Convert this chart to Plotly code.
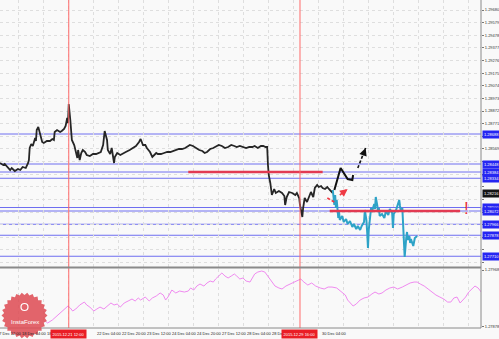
import math
import plotly.graph_objects as go

# ---------------- data (x = M30 bar index from chart start, y = price) ----------------
black_bars = [0, 4, 6, 10, 13, 15, 19, 23, 26, 29,
              33, 36, 37, 38, 40, 42, 45, 46, 47, 49,
              51, 52, 54, 56, 60, 64, 67, 69, 70, 73,
              77, 79, 82, 84, 86, 87, 88, 90, 91, 92,
              95, 97, 99, 100, 102, 104, 106, 109, 111, 115,
              119, 123, 127, 129, 132, 134, 136, 137, 138, 141,
              143, 146, 147, 150, 154, 157, 161, 166, 170, 174,
              178, 180, 183, 186, 188, 192, 195, 197, 200, 202,
              206, 210, 214, 218, 221, 225, 229, 233, 237, 241,
              243, 247, 251, 255, 259, 262, 265, 269, 273, 276,
              280, 284, 288, 292, 296, 300, 303, 307, 311, 315,
              319, 323, 326, 330, 334, 337, 340, 342, 343, 344,
              346, 347, 348, 351, 353, 357, 361, 364, 365, 367,
              370, 374, 378, 380, 383, 384, 385, 387, 388, 390,
              393, 396, 398, 401, 403, 406, 408, 411, 413, 416,
              419, 421, 424, 426]
black_price = [1.28456, 1.28440, 1.28448, 1.28416, 1.28400, 1.28416, 1.28392, 1.28408, 1.28400, 1.28424,
               1.28416, 1.28456, 1.28480, 1.28576, 1.28608, 1.28592, 1.28656, 1.28632, 1.28720, 1.28744,
               1.28696, 1.28656, 1.28624, 1.28616, 1.28632, 1.28632, 1.28648, 1.28640, 1.28704, 1.28720,
               1.28704, 1.28712, 1.28728, 1.28752, 1.28816, 1.28776, 1.28928, 1.28800, 1.28688, 1.28640,
               1.28600, 1.28544, 1.28496, 1.28560, 1.28480, 1.28536, 1.28560, 1.28544, 1.28520, 1.28512,
               1.28528, 1.28528, 1.28536, 1.28544, 1.28600, 1.28712, 1.28664, 1.28640, 1.28560, 1.28528,
               1.28576, 1.28456, 1.28504, 1.28536, 1.28520, 1.28528, 1.28544, 1.28560, 1.28576, 1.28592,
               1.28624, 1.28648, 1.28600, 1.28600, 1.28576, 1.28544, 1.28504, 1.28520, 1.28536, 1.28528,
               1.28528, 1.28536, 1.28544, 1.28544, 1.28552, 1.28560, 1.28568, 1.28568, 1.28576, 1.28592,
               1.28600, 1.28592, 1.28576, 1.28560, 1.28552, 1.28536, 1.28544, 1.28568, 1.28576, 1.28584,
               1.28600, 1.28592, 1.28576, 1.28584, 1.28600, 1.28592, 1.28584, 1.28592, 1.28584, 1.28576,
               1.28584, 1.28584, 1.28592, 1.28576, 1.28592, 1.28592, 1.28584, 1.28584, 1.28440, 1.28360,
               1.28296, 1.28240, 1.28200, 1.28248, 1.28216, 1.28232, 1.28216, 1.28192, 1.28120, 1.28184,
               1.28224, 1.28216, 1.28200, 1.28216, 1.28176, 1.28120, 1.28088, 1.28024, 1.28096, 1.28176,
               1.28144, 1.28192, 1.28224, 1.28184, 1.28256, 1.28280, 1.28264, 1.28272, 1.28256, 1.28248,
               1.28264, 1.28248, 1.28224, 1.28216]

cyan_bars = [426, 428, 429, 430, 431, 433, 434, 435, 438, 440,
             443, 445, 448, 451, 453, 456, 458, 461, 463, 466,
             467, 469, 470, 471, 472, 474, 475, 476, 479, 480,
             481, 483, 484, 485, 486, 489, 492, 494, 497, 499,
             502, 503, 504, 507, 509, 511, 512, 513, 515, 516,
             517, 518, 520, 521, 522, 524, 525, 526, 529, 530,
             531, 534]
cyan_price = [1.28240, 1.28120, 1.28200, 1.28096, 1.28160, 1.28016, 1.28064, 1.28000, 1.28032, 1.27984,
              1.28008, 1.27968, 1.27992, 1.27944, 1.27968, 1.27928, 1.27952, 1.27920, 1.27952, 1.27984,
              1.28080, 1.28000, 1.27904, 1.27776, 1.27920, 1.28048, 1.28096, 1.28064, 1.28128, 1.28088,
              1.28184, 1.28112, 1.28064, 1.28096, 1.28032, 1.28048, 1.28016, 1.28072, 1.28040, 1.28088,
              1.28056, 1.27936, 1.28048, 1.28080, 1.28112, 1.28160, 1.28112, 1.28072, 1.28096, 1.27920,
              1.27872, 1.27704, 1.27856, 1.27904, 1.27840, 1.27872, 1.27816, 1.27848, 1.27792, 1.27832,
              1.27856, 1.27872]

osc_bars = [58, 61, 67, 70, 74, 79, 83, 87, 90, 93,
            97, 102, 108, 111, 115, 120, 124, 128, 133, 138,
            142, 146, 150, 154, 159, 164, 169, 173, 177, 180,
            186, 191, 195, 200, 205, 209, 212, 215, 218, 220,
            225, 230, 236, 241, 244, 248, 252, 256, 261, 265,
            269, 273, 276, 280, 284, 288, 292, 296, 300, 303,
            307, 311, 315, 320, 324, 326, 330, 335, 339, 343,
            348, 352, 357, 361, 366, 371, 376, 381, 385, 389,
            394, 399, 404, 410, 415, 420, 425, 431, 436, 442,
            445, 449, 452, 456, 461, 466, 471, 476, 480, 485,
            489, 494, 499, 504, 509, 515, 520, 525, 530, 534,
            538, 543, 548, 553, 558, 563, 568, 573, 577, 581,
            585, 589, 593, 596, 600, 604, 608, 612, 616]
osc_value = [1.278874, 1.278843, 1.278890, 1.278922, 1.278969, 1.279016, 1.279064, 1.279111, 1.279080, 1.279032,
             1.279064, 1.279127, 1.279174, 1.279127, 1.279095, 1.279032, 1.279064, 1.279095, 1.279064, 1.279111,
             1.279159, 1.279127, 1.279143, 1.279095, 1.279159, 1.279190, 1.279222, 1.279190, 1.279238, 1.279206,
             1.279253, 1.279190, 1.279238, 1.279269, 1.279317, 1.279285, 1.279206, 1.279253, 1.279332, 1.279364,
             1.279317, 1.279348, 1.279332, 1.279348, 1.279396, 1.279364, 1.279427, 1.279459, 1.279427, 1.279475,
             1.279506, 1.279490, 1.279538, 1.279585, 1.279633, 1.279585, 1.279554, 1.279585, 1.279617, 1.279585,
             1.279538, 1.279554, 1.279506, 1.279490, 1.279569, 1.279617, 1.279648, 1.279664, 1.279648, 1.279585,
             1.279506, 1.279427, 1.279396, 1.279380, 1.279427, 1.279459, 1.279490, 1.279522, 1.279538, 1.279490,
             1.279443, 1.279475, 1.279427, 1.279396, 1.279380, 1.279411, 1.279411, 1.279396, 1.279348, 1.279285,
             1.279206, 1.279159, 1.279111, 1.279143, 1.279206, 1.279238, 1.279253, 1.279301, 1.279332, 1.279301,
             1.279317, 1.279364, 1.279396, 1.279411, 1.279380, 1.279411, 1.279443, 1.279475, 1.279490, 1.279490,
             1.279459, 1.279427, 1.279380, 1.279332, 1.279285, 1.279253, 1.279222, 1.279174, 1.279174, 1.279238,
             1.279253, 1.279159, 1.279206, 1.279253, 1.279332, 1.279380, 1.279427, 1.279396, 1.279332]

# hand-drawn forecast marks
fc_black_bars = [428, 436, 445, 451, 452]
fc_black_price = [1.28240, 1.28416, 1.28328, 1.28320, 1.28360]
fc_black_dash_bars = [458, 468]
fc_black_dash_price = [1.28416, 1.28576]
fc_red1_bars = [419, 430]
fc_red1_price = [1.28176, 1.28136]
fc_red2_bars = [435, 445]
fc_red2_price = [1.28200, 1.28248]

# horizontal levels
blue_levels = [1.28688, 1.28448, 1.28384, 1.28334, 1.28100, 1.28072, 1.27966, 1.27878, 1.27710]
red_levels = [(241, 413, 1.28384), (422, 589, 1.28072)]
mark_bar, mark_price = 597, 1.28092
last_price = 1.28216

# vertical time markers
vline_bars = [88, 384]
vline_labels = ["2015.12.21 12:00", "2015.12.29 16:00"]

# axes
grid_bars = [24, 56, 88, 120, 152, 184, 216, 248, 280, 312, 344, 376, 408,
             440, 472, 504, 536, 568, 600]
xlabel_bars = [24, 56, 120, 152, 184, 216, 248, 280, 312, 344, 408]
xlabel_text = ["18 Dec 04:00", "18 Dec 20:00", "22 Dec 04:00", "22 Dec 20:00",
               "23 Dec 12:00", "24 Dec 04:00", "24 Dec 20:00", "27 Dec 12:00", "28 Dec 04:00",
               "28 Dec 20:00", "30 Dec 04:00"]
first_label_bar, first_label_text = -8, "17 Dec 12:00"
price_ticks = [1.29680, 1.29579, 1.29478, 1.29377, 1.29276, 1.29175, 1.29074, 1.28973, 1.28872,
               1.28771, 1.28670, 1.28569, 1.28468, 1.28367, 1.28266, 1.28165, 1.28064, 1.27963,
               1.27862, 1.27761, 1.27660]
osc_ticks = [1.27968, 1.27878]

# ---------------- figure ----------------
W, H = 499, 339
ML, MR, MT, MB = 0, 18, 0, 11
PW, PH = W - ML - MR, H - MT - MB
X_RANGE = [0, 615.7]
Y_RANGE = [1.27624, 1.29760]
FONT = "Liberation Sans"
GRID = "#dedede"

px_per_price = 267 / (Y_RANGE[1] - Y_RANGE[0])
covered = [lv for lv in blue_levels + [last_price]]
tick_text = []
for v in price_ticks:
    hidden = any(abs(v - c) * px_per_price < 6.5 for c in covered)
    tick_text.append("" if hidden else f"{v:.5f}")

fig = go.Figure()

fig.add_trace(go.Scatter(x=black_bars, y=black_price, mode="lines",
                         line=dict(color="#262626", width=1.8), xaxis="x", yaxis="y"))
fig.add_trace(go.Scatter(x=cyan_bars, y=cyan_price, mode="lines",
                         line=dict(color="#2ea3c7", width=2), xaxis="x", yaxis="y"))
fig.add_trace(go.Scatter(x=osc_bars, y=osc_value, mode="lines",
                         line=dict(color="#f08af0", width=1), xaxis="x", yaxis="y2"))
fig.add_trace(go.Scatter(x=fc_black_bars, y=fc_black_price, mode="lines",
                         line=dict(color="#111111", width=2), xaxis="x", yaxis="y"))
fig.add_trace(go.Scatter(x=fc_black_dash_bars, y=fc_black_dash_price, mode="lines",
                         line=dict(color="#111111", width=1.6, dash="3px,2px"), xaxis="x", yaxis="y"))
fig.add_trace(go.Scatter(x=fc_red1_bars, y=fc_red1_price, mode="lines",
                         line=dict(color="#ef3a44", width=1.6, dash="3px,2px"), xaxis="x", yaxis="y"))
fig.add_trace(go.Scatter(x=fc_red2_bars, y=fc_red2_price, mode="lines",
                         line=dict(color="#ef3a44", width=1.6, dash="3px,2px"), xaxis="x", yaxis="y"))

shapes = []
for lv in blue_levels:
    shapes.append(dict(type="line", xref="paper", x0=0, x1=1, yref="y", y0=lv, y1=lv,
                       line=dict(color="#6e6ef0", width=1), layer="below"))
for x0, x1, lv in red_levels:
    shapes.append(dict(type="line", xref="x", x0=x0, x1=x1, yref="y", y0=lv, y1=lv,
                       line=dict(color="#e23a52", width=2.6)))
for vb in vline_bars:
    shapes.append(dict(type="line", xref="x", x0=vb, x1=vb, yref="paper", y0=0, y1=1,
                       line=dict(color="#ff6a6a", width=1)))
shapes.append(dict(type="line", xref="paper", x0=1, x1=1, yref="paper", y0=0, y1=1,
                   line=dict(color="#8a8a8a", width=1)))
shapes.append(dict(type="line", xref="paper", x0=0, x1=1, yref="paper", y0=0, y1=0,
                   line=dict(color="#8a8a8a", width=1)))
sep = (PH - 267.5) / PH
shapes.append(dict(type="line", xref="paper", x0=0, x1=1, yref="paper", y0=sep, y1=sep,
                   line=dict(color="#8a8a8a", width=2)))

# InstaForex badge (decoration)
cx, cy, ro, ri, n = 24.5, 315.5, 23.0, 20.5, 26
pts = []
for i in range(2 * n):
    r = ro if i % 2 == 0 else ri
    a = math.pi * i / n
    px = cx + r * math.cos(a)
    py = cy + r * math.sin(a)
    pts.append((px / PW, (PH - py) / PH))
path = "M " + " L ".join(f"{x:.5f},{y:.5f}" for x, y in pts) + " Z"
shapes.append(dict(type="path", xref="paper", yref="paper", path=path,
                   fillcolor="rgba(222,78,86,0.88)", line=dict(width=0), layer="above"))
ex, ey = 24.5, 307
shapes.append(dict(type="circle", xref="paper", yref="paper",
                   x0=(ex - 3.5) / PW, x1=(ex + 3.5) / PW,
                   y0=(PH - ey - 3.5) / PH, y1=(PH - ey + 3.5) / PH,
                   line=dict(color="white", width=1.2), fillcolor="rgba(0,0,0,0)", layer="above"))

annotations = []
for b, t in zip(xlabel_bars, xlabel_text):
    annotations.append(dict(x=b, xref="x", y=0, yref="paper", yanchor="top", xanchor="left",
                            xshift=1, yshift=-1, text=t, showarrow=False,
                            font=dict(family=FONT, size=4, color="#222")))
annotations.append(dict(x=(first_label_bar - X_RANGE[0]) / (X_RANGE[1] - X_RANGE[0]), xref="paper",
                        y=0, yref="paper", yanchor="top", xanchor="left", xshift=1, yshift=-1,
                        text=first_label_text, showarrow=False,
                        font=dict(family=FONT, size=4, color="#222")))
for b, t in zip(vline_bars, vline_labels):
    annotations.append(dict(x=b, xref="x", y=0, yref="paper", yanchor="top", xanchor="center",
                            yshift=-1, text=t, showarrow=False, bgcolor="#ea1d25", borderpad=1.5,
                            font=dict(family=FONT, size=4, color="white")))
for lv in blue_levels:
    annotations.append(dict(x=1, xref="paper", y=lv, yref="y", xanchor="left", yanchor="middle",
                            xshift=1, text=f"{lv:.5f}", showarrow=False, bgcolor="#2626f2",
                            borderpad=1, font=dict(family=FONT, size=4, color="white")))
annotations.append(dict(x=1, xref="paper", y=last_price, yref="y", xanchor="left", yanchor="middle",
                        xshift=1, text=f"{last_price:.5f}", showarrow=False, bgcolor="#151515",
                        borderpad=1, font=dict(family=FONT, size=4, color="white")))
annotations.append(dict(x=fc_black_dash_bars[-1], y=fc_black_dash_price[-1], xref="x", yref="y",
                        ax=fc_black_dash_bars[0] + 6, ay=fc_black_dash_price[0] + 0.0009,
                        axref="x", ayref="y", showarrow=True, arrowhead=2, arrowsize=1.1,
                        arrowwidth=1.4, arrowcolor="#111111", text=""))
annotations.append(dict(x=fc_red2_bars[-1], y=fc_red2_price[-1], xref="x", yref="y",
                        ax=fc_red2_bars[0] + 5, ay=fc_red2_price[0] + 0.00024,
                        axref="x", ayref="y", showarrow=True, arrowhead=2, arrowsize=1.1,
                        arrowwidth=1.4, arrowcolor="#ef3a44", text=""))
annotations.append(dict(x=mark_bar, y=mark_price, xref="x", yref="y", text="!", showarrow=False,
                        xanchor="center", yanchor="middle",
                        font=dict(family=FONT, size=17, color="#e8303a")))
annotations.append(dict(x=24.5 / PW, y=(PH - 322) / PH, xref="paper", yref="paper",
                        text="InstaForex", showarrow=False, xanchor="center", yanchor="middle",
                        font=dict(family=FONT, size=6, color="white")))

fig.update_layout(
    width=W, height=H,
    margin=dict(l=ML, r=MR, t=MT, b=MB, pad=0),
    paper_bgcolor="#f9f9f9", plot_bgcolor="#f9f9f9",
    showlegend=False,
    shapes=shapes, annotations=annotations,
    xaxis=dict(domain=[0, 1], range=X_RANGE, anchor="y", tickvals=grid_bars,
               showticklabels=False, ticks="", showgrid=True, gridcolor=GRID,
               griddash="dot", gridwidth=1, zeroline=False, showline=False,
               fixedrange=True, automargin=False),
    yaxis=dict(domain=[(PH - 267) / PH, 1], range=Y_RANGE, side="right", anchor="x",
               tickvals=price_ticks, ticktext=tick_text,
               tickfont=dict(family=FONT, size=4, color="#333"), ticks="outside", ticklen=2,
               tickcolor="#777", showgrid=True, gridcolor=GRID, griddash="dot",
               zeroline=False, showline=False, automargin=False),
    yaxis2=dict(domain=[0, (PH - 269) / PH], range=[1.278764, 1.279696], side="right", anchor="x",
                tickvals=osc_ticks, ticktext=[f"{v:.5f}" for v in osc_ticks],
                tickfont=dict(family=FONT, size=4, color="#333"), ticks="outside", ticklen=2,
                tickcolor="#777", showgrid=False, zeroline=False, showline=False,
                automargin=False),
)

fig.write_html("out.html")
